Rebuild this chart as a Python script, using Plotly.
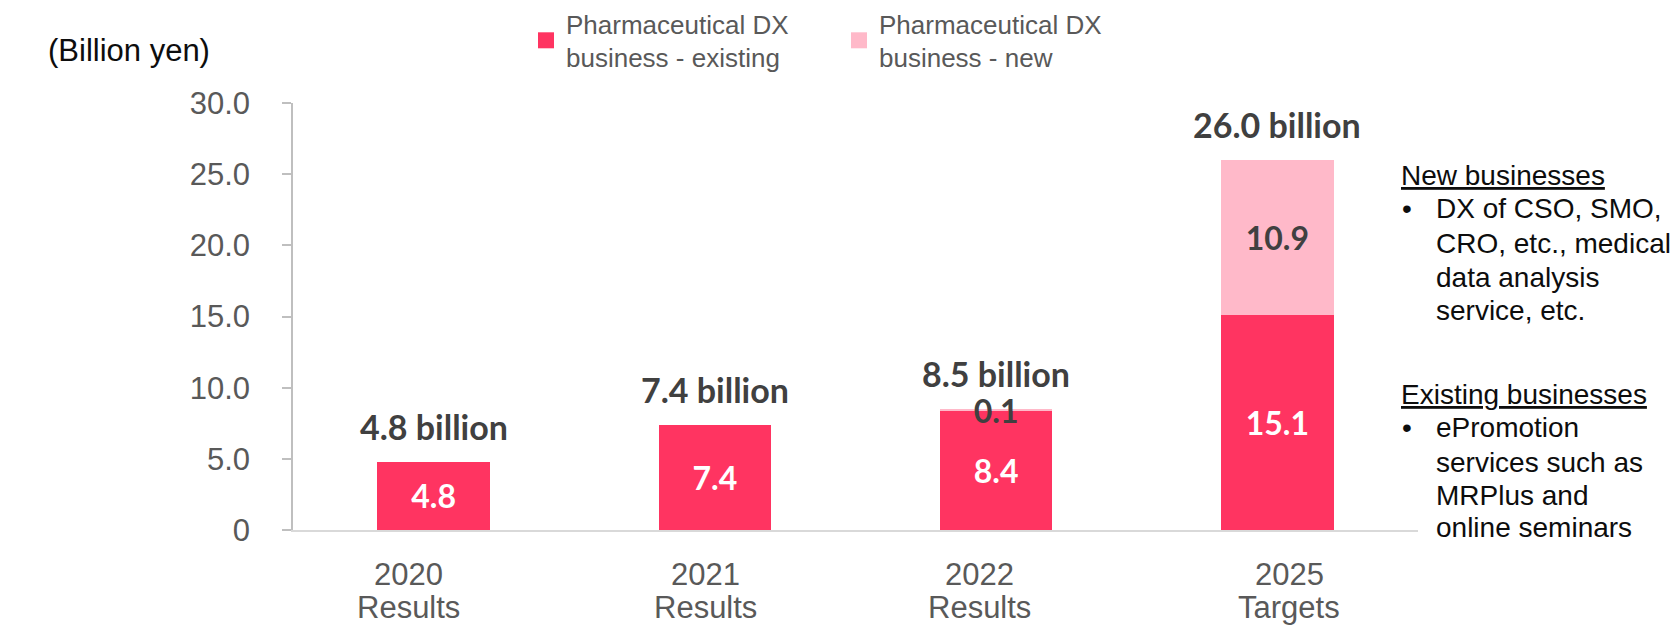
import plotly.graph_objects as go

# ---- data ----
categories = ["2020", "2021", "2022", "2025"]
category_status = ["Results", "Results", "Results", "Targets"]
existing = [4.8, 7.4, 8.4, 15.1]
new = [None, None, 0.1, 10.9]
existing_text = ["4.8", "7.4", "8.4", "15.1"]
new_text = ["", "", "0.1", "10.9"]
totals = [4.8, 7.4, 8.5, 26.0]
total_labels = ["4.8 billion", "7.4 billion", "8.5 billion", "26.0 billion"]
series_names = ["Pharmaceutical DX<br>business - existing", "Pharmaceutical DX<br>business - new"]
y_tickvals = [0, 5, 10, 15, 20, 25, 30]
y_ticktext = ["0", "5.0", "10.0", "15.0", "20.0", "25.0", "30.0"]
unit_label = "(Billion yen)"
new_title = "New businesses"
new_lines = ["DX of CSO, SMO,", "CRO, etc., medical", "data analysis", "service, etc."]
exist_title = "Existing businesses"
exist_lines = ["ePromotion", "services such as", "MRPlus and", "online seminars"]

# ---- style / layout ----
W, H = 1677, 626
L, R, T, B = 293, 259, 103, 96
PW, PH = W - L - R, H - T - B
RED = "#FF3461"
PINK = "#FFB9C9"
DARK = "#404040"
GRAY = "#595959"
BLACK = "#0D0D0D"
BOLD = "Lato, 'Open Sans', sans-serif"
ARIAL = "Arial, 'Liberation Sans', sans-serif"
label_xshift = [-25, -9, -17, 12]   # category label offsets (px) as in the source slide


def px_x(x):
    return (x - L) / PW


def px_y(y):
    return (H - B - y) / PH


fig = go.Figure()
fig.add_trace(go.Bar(
    x=categories, y=existing, name=series_names[0], marker_color=RED,
    marker_line_width=0, width=0.4, showlegend=False,
    text=existing_text, textposition="inside", insidetextanchor="middle",
    textangle=0, constraintext="none",
    textfont=dict(family=BOLD, size=32, color="white", weight="bold"),
))
fig.add_trace(go.Bar(
    x=categories, y=new, name=series_names[1], marker_color=PINK,
    marker_line_width=0, width=0.4, showlegend=False,
    text=new_text, textposition="inside", insidetextanchor="middle",
    textangle=0, constraintext="none",
    textfont=dict(family=BOLD, size=32, color=DARK, weight="bold"),
))
# legend entries (square swatches)
for nm, col in zip(series_names, [RED, PINK]):
    fig.add_trace(go.Scatter(
        x=[None], y=[None], mode="markers", name=nm,
        marker=dict(symbol="square", size=16, color=col), showlegend=True,
    ))

annotations = []
for i, (t, lab) in enumerate(zip(totals, total_labels)):
    annotations.append(dict(
        x=i, y=t, xref="x", yref="y", text=f"<b>{lab}</b>", showarrow=False,
        yanchor="bottom", yshift=13,
        font=dict(family=BOLD, size=34, color=DARK),
    ))

AX_FONT = dict(family=ARIAL, size=31, color=GRAY)
for i, (c, st, dx) in enumerate(zip(categories, category_status, label_xshift)):
    annotations.append(dict(
        x=i, y=px_y(574), xref="x", yref="paper", text=c, showarrow=False,
        xanchor="center", yanchor="middle", xshift=dx, font=AX_FONT, borderpad=0,
    ))
    annotations.append(dict(
        x=i, y=px_y(607), xref="x", yref="paper", text=st, showarrow=False,
        xanchor="center", yanchor="middle", xshift=dx, font=AX_FONT, borderpad=0,
    ))

annotations.append(dict(
    x=px_x(46), y=px_y(50), xref="paper", yref="paper", text=unit_label,
    showarrow=False, xanchor="left", yanchor="middle",
    font=dict(family=ARIAL, size=31, color=BLACK),
))

SIDE_FONT = dict(family=ARIAL, size=28, color=BLACK)
blocks = [
    (new_title, new_lines, 175, [208, 243, 277, 310]),
    (exist_title, exist_lines, 394, [427, 462, 495, 527]),
]
for title, lines, ty, lys in blocks:
    annotations.append(dict(
        x=px_x(1399), y=px_y(ty), xref="paper", yref="paper",
        text=f"<u>{title}</u>", showarrow=False, xanchor="left", yanchor="middle",
        font=SIDE_FONT,
    ))
    annotations.append(dict(
        x=px_x(1400), y=px_y(lys[0]), xref="paper", yref="paper",
        text="•", showarrow=False, xanchor="left", yanchor="middle",
        font=SIDE_FONT,
    ))
    for ln, ly in zip(lines, lys):
        annotations.append(dict(
            x=px_x(1434), y=px_y(ly), xref="paper", yref="paper",
            text=ln, showarrow=False, xanchor="left", yanchor="middle",
            font=SIDE_FONT,
        ))

fig.update_layout(
    width=W, height=H,
    margin=dict(l=L, r=R, t=T, b=B, pad=0, autoexpand=False),
    plot_bgcolor="white", paper_bgcolor="white",
    barmode="stack",
    showlegend=True,
    legend=dict(
        orientation="h", xref="container", yref="container",
        x=526 / W, y=1, xanchor="left", yanchor="top",
        font=dict(family=ARIAL, size=26, color=GRAY),
        entrywidth=268, entrywidthmode="pixels", itemsizing="trace",
        bgcolor="rgba(0,0,0,0)", valign="middle", traceorder="normal",
    ),
    annotations=annotations,
    xaxis=dict(
        type="category", categoryorder="array", categoryarray=categories,
        range=[-0.5, 3.5], showgrid=False, zeroline=False,
        showline=True, linecolor="#D9D9D9", linewidth=2,
        ticks="", showticklabels=False, automargin=False,
    ),
    yaxis=dict(
        range=[0, 30], tickvals=y_tickvals, ticktext=y_ticktext,
        showgrid=False, zeroline=False, showline=True, linecolor="#BFBFBF",
        linewidth=1.5, ticks="outside", ticklen=9, tickcolor="#BFBFBF", tickwidth=1.5,
        ticklabelstandoff=26, automargin=False,
        tickfont=dict(family=ARIAL, size=31, color=GRAY),
    ),
)

fig.write_html("out.html", config={"displayModeBar": False},
               post_script="document.body.style.margin='0px';")
